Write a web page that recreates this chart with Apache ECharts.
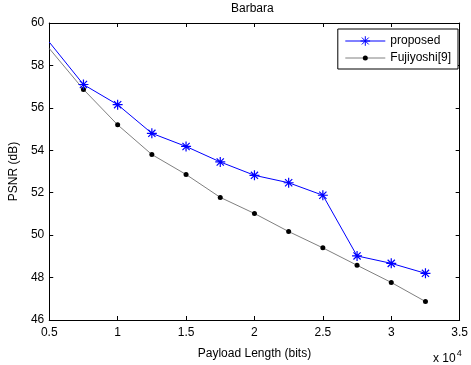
<!DOCTYPE html>
<html>
<head>
<meta charset="utf-8">
<script src="https://cdn.jsdelivr.net/npm/echarts@6/dist/echarts.min.js"></script>
<style>
  html, body { margin: 0; padding: 0; background: #fff; }
  #chart { width: 471px; height: 365px; }
</style>
</head>
<body>
<div id="chart"></div>
<script>
// payload length in units of 10^4 bits
const payload = [0.5, 0.75, 1, 1.25, 1.5, 1.75, 2, 2.25, 2.5, 2.75, 3, 3.25];
const proposed = [59.1, 57.1, 56.15, 54.8, 54.18, 53.45, 52.82, 52.47, 51.88, 49.02, 48.67, 48.2];
const fujiyoshi = [58.8, 56.87, 55.2, 53.8, 52.86, 51.78, 51.02, 50.17, 49.4, 48.58, 47.77, 46.87];
const xTicks = [0.5, 1, 1.5, 2, 2.5, 3, 3.5];
const yTicks = [46, 48, 50, 52, 54, 56, 58, 60];

const font = 'Liberation Sans, Arial, sans-serif';
const asterisk = 'path://M0,-5L0,5M-5,0L5,0M-3.6,-3.6L3.6,3.6M-3.6,3.6L3.6,-3.6';
// small dot inside a wider empty box, so the legend copy stays small too
const dot = 'path://M-4.8,-4.8M4.8,4.8M-2.5,0A2.5,2.5,0,1,1,2.5,0A2.5,2.5,0,1,1,-2.5,0Z';

// first point sits on the left border, no marker drawn there
const pts = (ys) => payload.map((x, i) => i === 0 ? { value: [x, ys[i]], symbol: 'none' } : [x, ys[i]]);

const axisBase = {
  type: 'value',
  axisLine: { show: true, onZero: false, lineStyle: { color: '#000', width: 1 } },
  axisTick: { show: true, inside: true, length: 4, lineStyle: { color: '#000' } },
  splitLine: { show: false },
  axisLabel: { color: '#000', fontFamily: font, fontSize: 12 }
};

const chart = echarts.init(document.getElementById('chart'));
chart.setOption({
  animation: false,
  backgroundColor: '#fff',
  grid: { left: 43, right: 10, top: 23, bottom: 43 },
  xAxis: [
    Object.assign({}, axisBase, {
      min: xTicks[0], max: xTicks[xTicks.length - 1], interval: 0.5,
      axisLabel: Object.assign({}, axisBase.axisLabel, { margin: 7, formatter: (v) => String(v) }),
      name: 'Payload Length (bits)', nameLocation: 'middle', nameGap: 28,
      nameTextStyle: { color: '#000', fontFamily: font, fontSize: 12 }
    }),
    Object.assign({}, axisBase, {
      position: 'top', min: xTicks[0], max: xTicks[xTicks.length - 1], interval: 0.5,
      axisLabel: { show: false }
    })
  ],
  yAxis: [
    Object.assign({}, axisBase, {
      min: yTicks[0], max: yTicks[yTicks.length - 1], interval: 2,
      axisLabel: Object.assign({}, axisBase.axisLabel, { margin: 5 }),
      name: 'PSNR (dB)', nameLocation: 'middle', nameGap: 25,
      nameTextStyle: { color: '#000', fontFamily: font, fontSize: 12 }
    }),
    Object.assign({}, axisBase, {
      position: 'right', min: yTicks[0], max: yTicks[yTicks.length - 1], interval: 2,
      axisLabel: { show: false }
    })
  ],
  legend: {
    orient: 'vertical', right: 13, top: 29,
    backgroundColor: '#fff', borderColor: '#000', borderWidth: 1, borderRadius: 0,
    padding: [6, 7, 5, 7], itemGap: 5, itemWidth: 40, itemHeight: 12,
    itemStyle: { borderWidth: 1 },
    lineStyle: { width: 1 },
    textStyle: { color: '#000', fontFamily: font, fontSize: 12 },
    data: ['proposed', 'Fujiyoshi[9]']
  },
  graphic: [
    { type: 'text', left: 231, top: 3, style: { text: 'Barbara', font: '12px ' + font, fill: '#000' } },
    { type: 'text', left: 433, top: 349, style: {
      text: 'x 10{s|4}', font: '12px ' + font, fill: '#000',
      rich: { s: { fontSize: 9, fontFamily: font, verticalAlign: 'top', padding: [0, 0, 11, 1] } }
    } }
  ],
  series: [
    {
      name: 'proposed', type: 'line', data: pts(proposed),
      symbol: asterisk, symbolSize: 10,
      lineStyle: { color: '#0000ff', width: 1 },
      itemStyle: { color: '#0000ff', borderColor: '#0000ff', borderWidth: 1.2 },
      z: 3
    },
    {
      name: 'Fujiyoshi[9]', type: 'line', data: pts(fujiyoshi),
      symbol: dot, symbolSize: 9.6,
      lineStyle: { color: '#808080', width: 1 },
      itemStyle: { color: '#000' },
      z: 2
    }
  ]
});
</script>
</body>
</html>
